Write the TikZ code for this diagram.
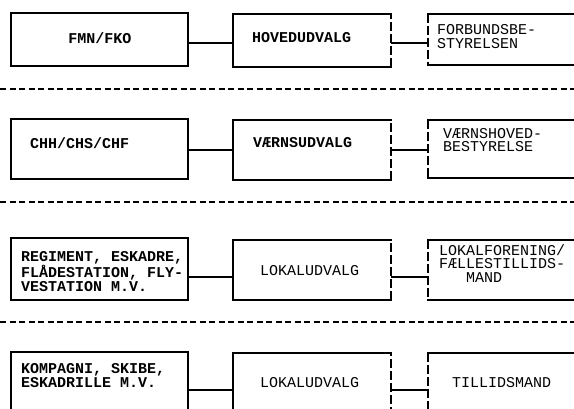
\documentclass[tikz,border=0pt]{standalone}
\usepackage{fontspec}
\newfontfamily\tw{Liberation Mono}
\usetikzlibrary{fit}
\begin{document}
\begin{tikzpicture}[x=1pt,y=-1pt,
  area/.style={inner sep=0pt, outer sep=0pt},
  boxline/.style={line width=1.4pt, line cap=rect},
  dashedge/.style={line width=1.1pt, dash pattern=on 9pt off 3pt},
  conn/.style={line width=1.3pt},
  sepline/.style={line width=1.5pt, dash pattern=on 6pt off 3.5pt},
  lbl/.style={inner sep=0pt, align=left, anchor=west, font={\tw\bfseries\fontsize{15}{14.5}\selectfont}},
  lbllight/.style={lbl, font={\tw\fontsize{15}{13.5}\selectfont}}
]
\useasboundingbox (0,0) rectangle (574,409);
\fill[white] (0,0) rectangle (574,409);
\clip (0,0) rectangle (574,409);

% ---------- box areas ----------
\node[area, fit={(11,13) (188,66)}] (a1) {};
\node[area, fit={(233,14) (391,67)}] (b1) {};
\node[area, fit={(428,14) (600,65)}] (c1) {};
\node[area, fit={(11,119) (188,179)}] (a2) {};
\node[area, fit={(233,120) (391,180)}] (b2) {};
\node[area, fit={(428,120) (600,178)}] (c2) {};
\node[area, fit={(11,238) (188,300)}] (a3) {};
\node[area, fit={(233,240) (391,300)}] (b3) {};
\node[area, fit={(428,240) (600,300)}] (c3) {};
\node[area, fit={(11,352) (188,440)}] (a4) {};
\node[area, fit={(233,353) (391,440)}] (b4) {};
\node[area, fit={(428,353) (600,440)}] (c4) {};

% ---------- box outlines ----------
\foreach \r in {1,2,3,4}{
  \draw[boxline] (a\r.north west) rectangle (a\r.south east);
  \draw[boxline] (b\r.north east) -- (b\r.north west) -- (b\r.south west) -- (b\r.south east);
  \draw[dashedge] (b\r.south east) -- (b\r.north east);
  \draw[boxline] (c\r.north west) -- (c\r.north east);
  \draw[boxline] (c\r.south west) -- (c\r.south east);
  \draw[dashedge] (c\r.north west) -- (c\r.south west);
}

% ---------- connectors ----------
\coordinate (y1) at (0,43);
\coordinate (y2) at (0,150);
\coordinate (y3) at (0,277);
\coordinate (y4) at (0,390);
\foreach \r in {1,2,3,4}{
  \draw[conn] (a\r.east |- y\r) -- (b\r.west |- y\r);
  \draw[conn] (b\r.east |- y\r) -- (c\r.west |- y\r);
}

% ---------- separators ----------
\coordinate (s1l) at (0,89);   \coordinate (s1r) at (574,89);
\coordinate (s2l) at (0,202);  \coordinate (s2r) at (574,202);
\coordinate (s3l) at (0,322);  \coordinate (s3r) at (574,322);
\draw[sepline] (s1l) -- (s1r);
\draw[sepline] (s2l) -- (s2r);
\draw[sepline] (s3l) -- (s3r);

% ---------- labels ----------
\node[lbl, anchor=center] (ta1) at (100,38) {FMN/FKO};
\node[lbl] (tb1) at (252,38) {HOVEDUDVALG};
\node[lbllight] (tc1) at (437,36.5) {FORBUNDSBE-\\STYRELSEN};

\node[lbl] (ta2) at (30,143) {CHH/CHS/CHF};
\node[lbl] (tb2) at (253,143) {VÆRNSUDVALG};
\node[lbllight] (tc2) at (443,140) {VÆRNSHOVED-\\BESTYRELSE};

\node[lbl] (ta3) at (21,271.5) {REGIMENT, ESKADRE,\\FLÅDESTATION, FLY-\\VESTATION M.V.};
\node[lbllight] (tb3) at (260,271) {LOKALUDVALG};
\node[lbllight] (tc3) at (439,263.5) {LOKALFORENING/\\FÆLLESTILLIDS-\\\hphantom{XXX}MAND};

\node[lbl] (ta4) at (21,375.5) {KOMPAGNI, SKIBE,\\ESKADRILLE M.V.};
\node[lbllight] (tb4) at (260,383) {LOKALUDVALG};
\node[lbllight] (tc4) at (452,383) {TILLIDSMAND};
\end{tikzpicture}
\end{document}
